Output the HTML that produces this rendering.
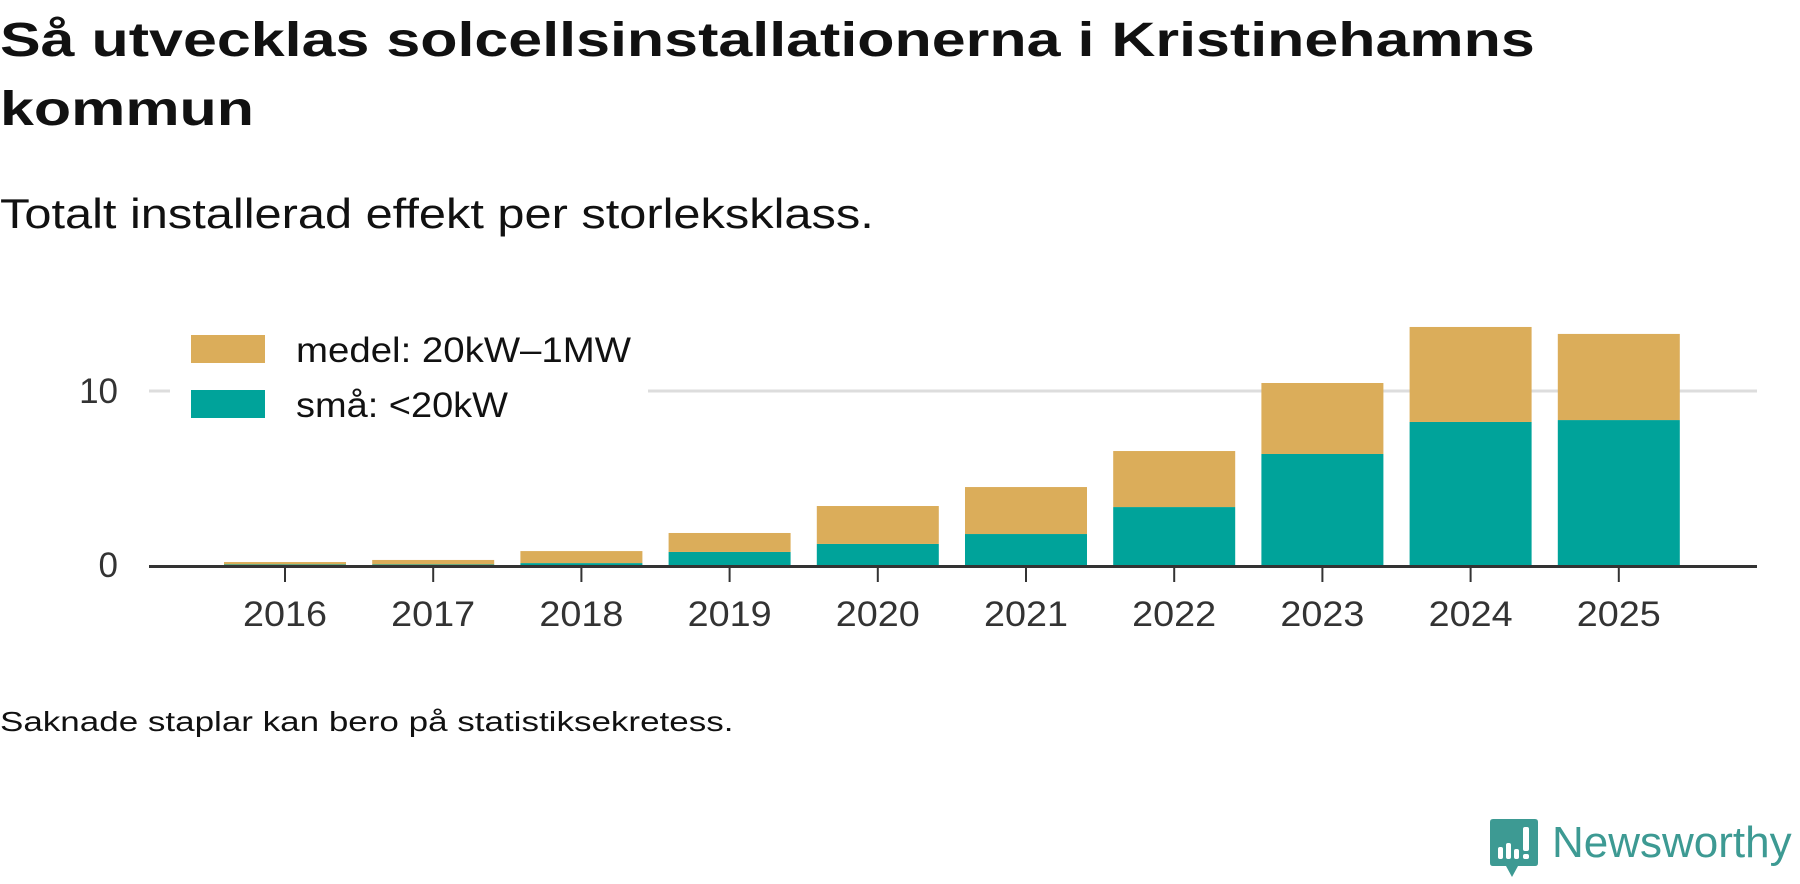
<!DOCTYPE html>
<html><head><meta charset="utf-8"><style>
body{margin:0;width:1800px;height:879px;background:#fff;font-family:"Liberation Sans",sans-serif;overflow:hidden;position:relative;color:#111}
.t{position:absolute;white-space:nowrap;transform-origin:0 0}
</style></head><body>
<div class="t" style="left:0;top:6px;font-size:48px;font-weight:bold;line-height:69px;color:#111;transform:scaleX(1.27)">Så utvecklas solcellsinstallationerna i Kristinehamns<br>kommun</div>
<div class="t" style="left:0;top:190px;font-size:42px;color:#111;transform:scaleX(1.16)">Totalt installerad effekt per storleksklass.</div>
<svg id="chart" width="1800" height="879" style="position:absolute;left:0;top:0"></svg>
<div class="t" style="left:0;top:706px;font-size:28px;color:#111;transform:scaleX(1.25)">Saknade staplar kan bero på statistiksekretess.</div>
<div style="position:absolute;left:1490px;top:819px">
<svg width="50" height="60"><path d="M3 0H45Q48 0 48 3V44Q48 47 45 47H28L22 58L16 47H3Q0 47 0 44V3Q0 0 3 0Z" fill="#3d9a93"/><rect x="8" y="28" width="5" height="12" rx="2" fill="#fff"/><rect x="16" y="24" width="5" height="16" rx="2" fill="#fff"/><rect x="24" y="30" width="5" height="10" rx="2" fill="#fff"/><rect x="33" y="8" width="6" height="24" rx="2" fill="#fff"/><rect x="33" y="35" width="6" height="5" rx="2" fill="#fff"/></svg></div>
<div class="t" style="left:1552px;top:818px;font-size:44px;color:#3d9a93">Newsworthy</div>
<script>
const years=["2016","2017","2018","2019","2020","2021","2022","2023","2024","2025"];
const small=[0.03,0.03,0.11,0.75,1.21,1.78,3.33,6.38,8.22,8.33];
const medium=[0.14,0.26,0.69,1.09,2.18,2.70,3.22,4.08,5.46,4.95];
const yTicks=[0,10];
const NS="http://www.w3.org/2000/svg";
const svg=document.getElementById('chart');
const x0=149,x1=1757,y0=565,pxPerUnit=17.4;
function xc(i){return 285+i*148.2;}
function yv(v){return y0-v*pxPerUnit;}
function mk(tag,at){const e=document.createElementNS(NS,tag);for(const k in at)e.setAttribute(k,at[k]);svg.appendChild(e);return e;}
yTicks.forEach(t=>{
 if(t>0){const g=mk('line',{x1:x0,x2:x1,y1:yv(t),y2:yv(t),stroke:'#dddddd','stroke-width':3});
 
 }
 const l=mk('text',{x:118,y:yv(t)+12,'text-anchor':'end','font-size':35,fill:'#333','font-family':'Liberation Sans, sans-serif'});
 l.textContent=t;
 
 
});
const bw=122;
years.forEach((yr,i)=>{
 const a=mk('rect',{x:xc(i)-bw/2,y:yv(small[i]),width:bw,height:small[i]*pxPerUnit,fill:'#00a39a'});
 
 
 const b=mk('rect',{x:xc(i)-bw/2,y:yv(small[i]+medium[i]),width:bw,height:medium[i]*pxPerUnit,fill:'#dbad5a'});
 
 
 const tk=mk('line',{x1:xc(i),x2:xc(i),y1:y0,y2:582,stroke:'#333','stroke-width':2});
 
 
 const t=mk('text',{x:xc(i),y:626,'text-anchor':'middle','font-size':35,fill:'#333','font-family':'Liberation Sans, sans-serif',textLength:84,lengthAdjust:'spacingAndGlyphs'});
 t.textContent=yr;
 
 
});
const ax=mk('line',{x1:x0,x2:x1,y1:y0+1.5,y2:y0+1.5,stroke:'#333','stroke-width':3});


const bg=mk('rect',{x:170,y:325,width:478,height:105,fill:'#fff'});


[["medel: 20kW–1MW",'#dbad5a',335,335],["små: <20kW",'#00a39a',390,212]].forEach(([lab,c,y,w])=>{
 const s=mk('rect',{x:191,y:y,width:74,height:28,fill:c});
 
 
 const t=mk('text',{x:296,y:y+27,'font-size':35,fill:'#111','font-family':'Liberation Sans, sans-serif',textLength:w,lengthAdjust:'spacingAndGlyphs'});
 t.textContent=lab;
 
 
});
</script>
</body></html>
